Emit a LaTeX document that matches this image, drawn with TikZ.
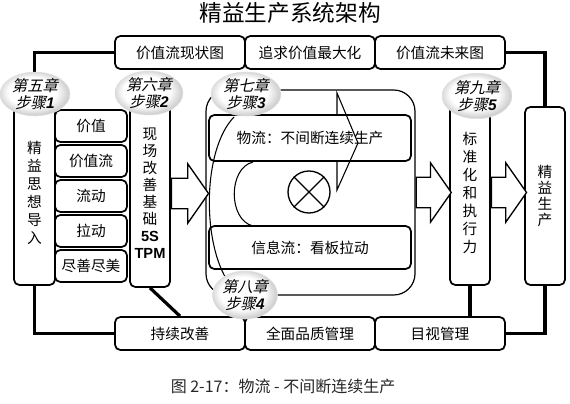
\documentclass[tikz,border=0pt]{standalone}
\usepackage{fontspec}
\setmainfont{Noto Sans CJK SC}
\newfontfamily\cjkit[FakeSlant=0.22]{Noto Sans CJK SC}
\newfontfamily\lsans{Liberation Sans}
\usetikzlibrary{shapes.arrows,shapes.geometric}

\pgfdeclareradialshading{stepglow}{\pgfpoint{-3bp}{3bp}}{color(0bp)=(white); color(17bp)=(white); color(25bp)=(black!18); color(50bp)=(black!18)}
\newcommand\stepnote[2]{{\cjkit #1}\\{\cjkit 步骤}{\lsans\bfseries\itshape #2}}

\begin{document}
\begin{tikzpicture}[x=0.75pt, y=-0.75pt,
    box/.style={draw, line width=1.3pt, rounded corners=4pt, fill=white, inner sep=0pt, font=\fontsize{11}{13}\selectfont},
    topbox/.style={box, minimum width=97.5pt, minimum height=24.75pt},
    valbox/.style={box, minimum width=54pt, minimum height=24pt},
    colbox/.style={box, minimum width=30pt, align=center, font=\fontsize{11}{13.5}\selectfont},
    link/.style={line width=2.4pt},
    thinline/.style={line width=0.8pt},
    fat/.style={single arrow, draw, line width=1pt, fill=white, anchor=tail, inner xsep=0pt, inner ysep=10.9pt, single arrow head extend=10.9pt, single arrow tip angle=110},
    chapter/.style={ellipse, shading=stepglow, draw=black!12, inner sep=0pt, align=center, font=\fontsize{11.5}{12.5}\selectfont}]

    \useasboundingbox (0,0) rectangle (570,403);

    % Title
    \node[font=\fontsize{17}{20}\selectfont] (title) at (290,13) {精益生产系统架构};

    % Top and bottom rows
    \node[topbox] (cur) at (180,52.5) {价值流现状图};
    \node[topbox] (max) at (310,52.5) {追求价值最大化};
    \node[topbox] (fut) at (440,52.5) {价值流未来图};
    \node[topbox] (kaizen) at (180,333.5) {持续改善};
    \node[topbox] (tqm) at (310,333.5) {全面品质管理};
    \node[topbox] (vis) at (440,333.5) {目视管理};

    % Left: thinking and values
    \node[colbox, minimum height=138.75pt, minimum width=30.75pt] (lean) at (34.5,192.5) {精\\益\\思\\想\\导\\入};
    \node[valbox] (v1) at (91,126) {价值};
    \node[valbox] (v2) at (91,161) {价值流};
    \node[valbox] (v3) at (91,196) {流动};
    \node[valbox] (v4) at (91,231) {拉动};
    \node[valbox] (v5) at (91,266) {尽善尽美};
    \node[colbox, minimum height=140.25pt, font=\fontsize{11}{12.75}\selectfont] (base) at (150,193.5) {现\\场\\改\\善\\基\\础\\{\lsans\bfseries 5S}\\{\lsans\bfseries TPM}};

    % Right: standard and result
    \node[colbox, minimum height=138.75pt] (std) at (470,192.5) {标\\准\\化\\和\\执\\行\\力};
    \node[colbox, minimum height=133.5pt, font=\fontsize{11}{12}\selectfont] (prod) at (545,196) {精\\益\\生\\产};

    % Links
    \draw[link] (cur.west) -| (lean.north);
    \draw[link] (lean.south) |- (kaizen.west);
    \draw[link] (base.south) -- (kaizen.north);
    \draw[link] (fut.east) -| (prod.north);
    \draw[link] (vis.east) -| (prod.south);
    \draw[link] (std.south) -- (std.south |- vis.north);

    % Middle: flow loop
    \node[draw, line width=0.9pt, rounded corners=16pt, fill=white, inner sep=0pt, minimum width=156.75pt, minimum height=153.75pt] (loop) at (310.5,192.5) {};
    \draw[thinline] (234,117) .. controls (202,150) and (202,245) .. (229,283);
    \draw[thinline] (253,162) .. controls (228,168) and (228,220) .. (253,226);
    \node[box, fill=none, minimum width=151.5pt, minimum height=34.5pt] (flow) at (310,138) {物流：不间断连续生产};
    \node[box, fill=none, minimum width=151.5pt, minimum height=32.25pt] (info) at (310,247.5) {信息流：看板拉动};
    \draw[thinline] (337,115) -- (337,93) -- (358,143) -- (337,190) -- (337,162);
    \node[draw, circle, line width=1pt, minimum size=31.5pt, inner sep=0pt] (mix) at (309,192) {};
    \draw[line width=1pt] (mix.45) -- (mix.225) (mix.135) -- (mix.315);

    % Block arrows
    \node[fat, minimum height=27.75pt] (a1) at (base.east) {};
    \node[fat, minimum height=26.25pt] (a2) at (loop.east) {};
    \node[fat, minimum height=26.25pt] (a3) at (std.east) {};

    % Steps
    \node[chapter, minimum width=52.5pt, minimum height=31.5pt] (s1) at (35,94) {\stepnote{第五章}{1}};
    \node[chapter, minimum width=51pt, minimum height=33pt] (s2) at (149,93) {\stepnote{第六章}{2}};
    \node[chapter, minimum width=52.5pt, minimum height=33pt] (s3) at (246,94) {\stepnote{第七章}{3}};
    \node[chapter, minimum width=48pt, minimum height=36pt] (s4) at (245,295) {\stepnote{第八章}{4}};
    \node[chapter, minimum width=52.5pt, minimum height=34pt] (s5) at (477,96) {\stepnote{第九章}{5}};

    % Caption
    \node[font=\fontsize{12}{14}\selectfont, text=black!85] (cap) at (283,386) {图 2-17：物流 - 不间断连续生产};

\end{tikzpicture}
\end{document}
